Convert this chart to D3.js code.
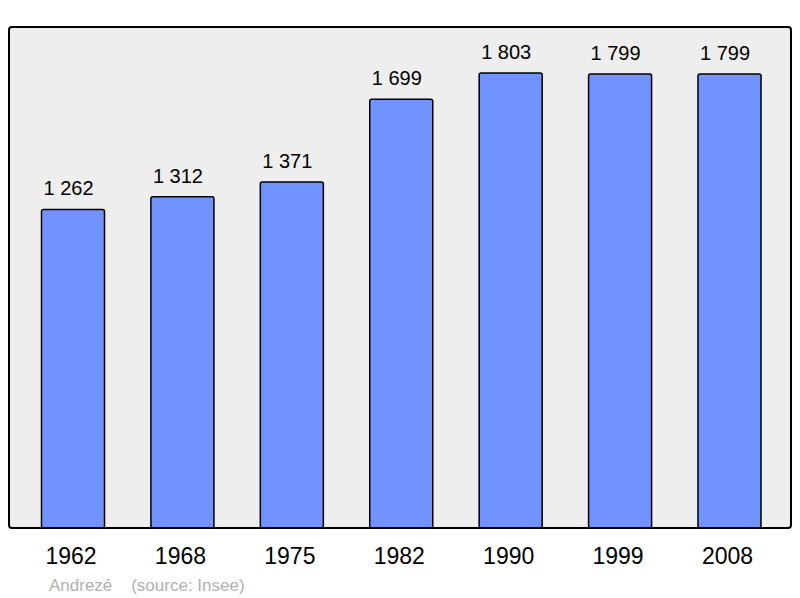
<!DOCTYPE html>
<html>
<head>
<meta charset="utf-8">
<script src="https://cdn.jsdelivr.net/npm/d3@7"></script>
<style>
  body { margin: 0; background: #fff; }
  svg { display: block; font-family: "Liberation Sans", Arial, sans-serif; }
</style>
</head>
<body>
<svg id="chart" width="800" height="598"></svg>
<script>
// population by census year
const years = ["1962", "1968", "1975", "1982", "1990", "1999", "2008"];
const population = [1262, 1312, 1371, 1699, 1803, 1799, 1799];
const labels = ["1 262", "1 312", "1 371", "1 699", "1 803", "1 799", "1 799"];
const footer = "Andrezé    (source: Insee)";

const svg = d3.select("#chart");
const panel = { x: 9, y: 27, w: 782, h: 501 };

const x = d3.scaleBand()
  .domain(years)
  .range([18.3, 784.2])
  .paddingInner(0.424)
  .paddingOuter(0.212);

const y = d3.scaleLinear()
  .domain([0, 1985])
  .range([panel.y + panel.h, panel.y]);

// background panel
svg.append("rect")
  .attr("x", panel.x).attr("y", panel.y)
  .attr("width", panel.w).attr("height", panel.h)
  .attr("rx", 3)
  .attr("fill", "#eeeeee")
  .attr("stroke", "none");

// bars
const data = years.map(function(d, i) {
  return { year: d, value: population[i], label: labels[i] };
});

svg.append("g").selectAll("rect").data(data).enter().append("rect")
  .attr("x", function(d) { return x(d.year); })
  .attr("y", function(d) { return y(d.value); })
  .attr("width", x.bandwidth())
  .attr("height", function(d) { return y(0) - y(d.value); })
  .attr("rx", 2)
  .attr("fill", "#7093ff")
  .attr("stroke", "#000")
  .attr("stroke-width", 1.5);

// value labels (sit a little left of bar centre, as in the original)
svg.append("g").selectAll("text").data(data).enter().append("text")
  .attr("x", function(d) { return x(d.year) + x.bandwidth() / 2 - 4.5; })
  .attr("y", function(d) { return y(d.value) - 14; })
  .attr("text-anchor", "middle")
  .attr("font-size", 20)
  .attr("fill", "#000")
  .text(function(d) { return d.label; });

// panel frame on top
svg.append("rect")
  .attr("x", panel.x).attr("y", panel.y)
  .attr("width", panel.w).attr("height", panel.h)
  .attr("rx", 3)
  .attr("fill", "none")
  .attr("stroke", "#000")
  .attr("stroke-width", 2);

// year axis
const xAxis = svg.append("g")
  .attr("transform", `translate(-2,${panel.y + panel.h})`)
  .call(d3.axisBottom(x).tickSize(0).tickPadding(20));
xAxis.select(".domain").remove();
xAxis.selectAll("text")
  .attr("font-size", 23)
  .attr("font-family", "Liberation Sans, Arial, sans-serif")
  .attr("fill", "#000");

// source
svg.append("text")
  .attr("x", 49).attr("y", 591)
  .attr("font-size", 17)
  .attr("fill", "#b0b0b0")
  .attr("xml:space", "preserve")
  .style("white-space", "pre")
  .text(footer);
</script>
</body>
</html>
